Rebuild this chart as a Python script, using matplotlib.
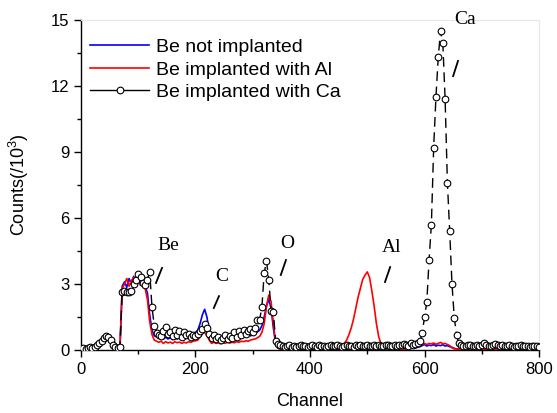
import matplotlib
matplotlib.use("Agg")
import matplotlib.pyplot as plt
from matplotlib.lines import Line2D
from matplotlib.ticker import MultipleLocator
import numpy as np

plt.rcParams['font.family'] = ['Liberation Sans', 'DejaVu Sans']
plt.rcParams['mathtext.fontset'] = 'custom'
plt.rcParams['mathtext.rm'] = 'Liberation Sans'

# Ca implanted spectrum, sampled every 4 channels (0..800)
ca_counts = [
    0.05, 0.08, 0.06, 0.1, 0.12, 0.1, 0.15, 0.22, 0.3,
    0.42, 0.55, 0.62, 0.6, 0.45, 0.25, 0.15, 0.1, 0.12,
    2.65, 2.68, 2.62, 2.65, 2.7, 3.0, 3.2, 3.45, 3.3, 3.05, 2.95, 3.2, 3.56,
    1.95, 1.1, 0.76, 0.7, 0.62, 0.85, 1.03, 0.75, 0.8, 0.65,
    0.9, 0.7, 0.85, 0.6, 0.8, 0.7, 0.75, 0.6, 0.7, 0.65,
    0.75, 0.85, 0.95, 1.2, 1.0, 0.75, 0.55, 0.7, 0.5, 0.6,
    0.45, 0.55, 0.7, 0.5, 0.65, 0.55, 0.8, 0.6, 0.85, 0.7,
    0.9, 0.75, 0.85, 0.95, 0.8,
    1.0, 1.35, 1.38, 1.95, 3.5, 4.05, 3.2, 1.78, 1.72, 0.4, 0.28, 0.22,
    0.2, 0.15, 0.18, 0.22, 0.15, 0.2, 0.12, 0.18, 0.22, 0.16,
    0.2, 0.14, 0.18, 0.25, 0.2, 0.15, 0.22, 0.18, 0.2, 0.15,
    0.18, 0.22, 0.16, 0.2, 0.25, 0.18, 0.15, 0.2, 0.22, 0.17,
    0.2, 0.15, 0.22, 0.18, 0.25, 0.2, 0.16, 0.22, 0.2, 0.18,
    0.25, 0.2, 0.22, 0.18, 0.2, 0.25, 0.22, 0.18, 0.2, 0.24,
    0.2, 0.25, 0.22, 0.28, 0.25, 0.2, 0.3, 0.25, 0.28, 0.32,
    0.4, 0.76, 1.5, 2.17, 4.1, 5.7, 9.2, 11.5, 13.3, 14.5,
    13.95, 11.4, 7.6, 5.4, 3.0, 1.47, 0.68, 0.3,
    0.22, 0.2, 0.18, 0.22, 0.25, 0.2, 0.18, 0.22, 0.2, 0.25,
    0.3, 0.22, 0.2, 0.18, 0.22, 0.28, 0.25, 0.2, 0.22, 0.18,
    0.2, 0.22, 0.18, 0.15, 0.2, 0.18, 0.22, 0.16, 0.2, 0.18,
    0.15, 0.2, 0.18, 0.16, 0.15,
]
ca_channel = np.arange(0, 801, 4)

# Not implanted and Al implanted, sampled every 4 channels (60..800)
blue_counts = [
    0.0, 0.0, 0.05,
    2.9, 3.1, 2.85, 3.25, 3.0, 3.35, 3.05, 3.25, 2.95, 3.2, 2.9, 2.6,
    1.6, 0.9, 0.65, 0.6, 0.55, 0.62, 0.5, 0.58, 0.5, 0.56,
    0.48, 0.57, 0.5, 0.62, 0.55, 0.6, 0.54, 0.62, 0.66, 0.7, 0.8,
    0.9, 1.2, 1.6, 1.85, 1.5, 0.8, 0.6, 0.5, 0.45, 0.52,
    0.45, 0.5, 0.56, 0.48, 0.55, 0.6, 0.53, 0.62, 0.55, 0.6,
    0.66, 0.6, 0.7, 0.64, 0.7,
    0.75, 0.82, 0.9, 1.1, 1.5, 2.0, 2.3, 1.9, 1.0, 0.3, 0.08, 0.05,
    0.05, 0.04, 0.06, 0.03, 0.05, 0.04, 0.06, 0.05, 0.03, 0.05,
    0.04, 0.06, 0.05, 0.04, 0.03, 0.05, 0.06, 0.04, 0.05, 0.03,
    0.05, 0.04, 0.06, 0.05, 0.04, 0.05, 0.03, 0.06, 0.05, 0.04,
    0.05, 0.06, 0.04, 0.05, 0.03, 0.05, 0.04, 0.06, 0.05, 0.04,
    0.05, 0.04, 0.06, 0.05, 0.04, 0.05, 0.06, 0.05, 0.04, 0.06,
    0.05, 0.06, 0.05, 0.07, 0.06, 0.08, 0.07, 0.09, 0.1, 0.12,
    0.15, 0.2, 0.25, 0.18, 0.22, 0.2, 0.25, 0.18, 0.22, 0.2,
    0.24, 0.18, 0.2, 0.15, 0.12, 0.08, 0.05, 0.04,
    0.03, 0.04, 0.03, 0.02, 0.03, 0.04, 0.03, 0.02, 0.03, 0.04,
    0.03, 0.03, 0.02, 0.04, 0.03, 0.02, 0.03, 0.04, 0.03, 0.02,
    0.03, 0.03, 0.04, 0.02, 0.03, 0.03, 0.02, 0.04, 0.03, 0.02,
    0.03, 0.02, 0.03, 0.02, 0.03,
]
red_counts = [
    0.0, 0.0, 0.03,
    2.8, 3.0, 3.25, 2.9, 3.15, 3.3, 3.0, 3.2, 2.95, 3.1, 2.8, 2.3,
    1.3, 0.7, 0.45, 0.4, 0.35, 0.4, 0.3, 0.38, 0.32, 0.36,
    0.3, 0.38, 0.33, 0.36, 0.3, 0.35, 0.32, 0.38, 0.35, 0.4, 0.42,
    0.45, 0.6, 0.75, 0.8, 0.65, 0.45, 0.3, 0.35, 0.3, 0.33,
    0.28, 0.34, 0.3, 0.36, 0.32, 0.35, 0.33, 0.38, 0.35, 0.4,
    0.38, 0.42, 0.4, 0.45, 0.48,
    0.5, 0.55, 0.62, 0.8, 1.2, 2.0, 2.5, 2.2, 1.2, 0.35, 0.1, 0.05,
    0.04, 0.05, 0.03, 0.05, 0.04, 0.06, 0.04, 0.05, 0.03, 0.05,
    0.04, 0.05, 0.06, 0.04, 0.05, 0.03, 0.05, 0.04, 0.06, 0.05,
    0.04, 0.06, 0.05, 0.07, 0.08,
    0.1, 0.15, 0.3, 0.45, 0.7, 1.0, 1.4, 1.9, 2.4, 2.8,
    3.2, 3.4, 3.55, 3.3, 2.7, 2.0, 1.2, 0.6, 0.3, 0.15,
    0.08, 0.06, 0.05, 0.04, 0.05, 0.04, 0.06, 0.05, 0.04, 0.05,
    0.06, 0.08, 0.1, 0.12, 0.14,
    0.2, 0.25, 0.3, 0.25, 0.3, 0.28, 0.32, 0.26, 0.3, 0.35,
    0.28, 0.3, 0.25, 0.2, 0.1, 0.05, 0.04, 0.03,
    0.03, 0.04, 0.03, 0.02, 0.03, 0.04, 0.03, 0.02, 0.03, 0.04,
    0.03, 0.03, 0.02, 0.04, 0.03, 0.02, 0.03, 0.04, 0.03, 0.02,
    0.03, 0.03, 0.04, 0.02, 0.03, 0.03, 0.02, 0.04, 0.03, 0.02,
    0.03, 0.02, 0.03, 0.02, 0.03,
]
sample_channel = np.arange(60, 801, 4)

# peak labels: (text, text position, slash start, slash end)
peak_labels = [
    ("Be", (152, 4.77), (131, 3.05), (141.5, 3.73)),
    ("C", (246, 3.32), (232, 1.91), (241, 2.45)),
    ("O", (360, 4.86), (349, 3.41), (358, 4.09)),
    ("Al", (543, 4.64), (531, 3.09), (540, 3.77)),
    ("Ca", (671, 15.0), (650, 12.45), (658.5, 13.14)),
]

fig = plt.figure(figsize=(5.57, 4.13), dpi=100)
ax = fig.add_axes([0.1454, 0.1525, 0.8223, 0.7991])

ax.plot(sample_channel, blue_counts, color='#0000ff', lw=1.2, zorder=2)
ax.plot(sample_channel, red_counts, color='#ff0000', lw=1.2, zorder=3)
ax.plot(ca_channel, ca_counts, color='black', lw=1.0, ls=(0, (7, 4)),
        marker='o', ms=4.8, mfc='white', mec='black', mew=0.8, zorder=4)

for txt, pos, p0, p1 in peak_labels:
    ax.text(pos[0], pos[1], txt, family=['Liberation Serif', 'DejaVu Serif'],
            fontsize=14, ha='center', va='center', clip_on=False)
    ax.plot([p0[0], p1[0]], [p0[1], p1[1]], color='black', lw=1.3)

ax.set_xlim(0, 800)
ax.set_ylim(0, 15)
ax.xaxis.set_major_locator(MultipleLocator(200))
ax.xaxis.set_minor_locator(MultipleLocator(100))
ax.yaxis.set_major_locator(MultipleLocator(3))
ax.yaxis.set_minor_locator(MultipleLocator(1.5))
ax.tick_params(which='major', direction='out', length=5, width=1, labelsize=12)
ax.tick_params(which='minor', direction='out', length=3, width=1)
ax.tick_params(top=False, right=False)
for side in ['top', 'right']:
    ax.spines[side].set_color('#e6e6e6')
for side in ['left', 'bottom']:
    ax.spines[side].set_linewidth(1.0)

ax.set_xlabel('Channel', fontsize=13, labelpad=12)
ax.set_ylabel(r'Counts(/10$^\mathregular{3}$)', fontsize=13, labelpad=14)

handles = [
    Line2D([], [], color='#0000ff', lw=1.2),
    Line2D([], [], color='#ff0000', lw=1.2),
    Line2D([], [], color='black', lw=1.0, marker='o', ms=4.8,
           mfc='white', mec='black', mew=0.8),
]
labels = ['Be not implanted', 'Be implanted with Al', 'Be implanted with Ca']
ax.legend(handles, labels, loc='upper left', bbox_to_anchor=(-0.009, 0.985),
          frameon=False, fontsize=14, handlelength=3.0, handletextpad=0.35,
          labelspacing=0.25, borderaxespad=0.3)

fig.savefig('out.png', dpi=100)
